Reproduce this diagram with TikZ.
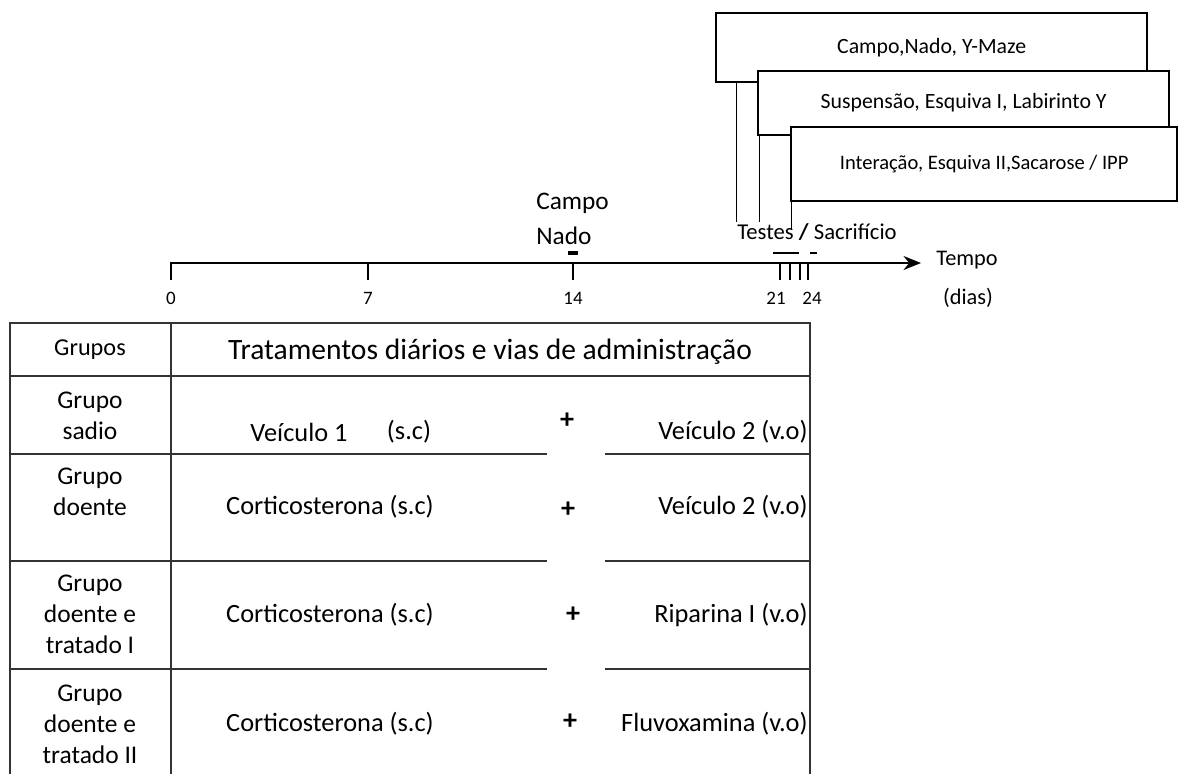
\documentclass[tikz,border=0pt]{standalone}
\usepackage{fontspec}
\setmainfont{Carlito}
\usetikzlibrary{arrows.meta}
\begin{document}
\begin{tikzpicture}[x=0.2mm,y=-0.2mm]
\tikzstyle{every node}+=[inner sep=0pt]
\tikzstyle{teste}=[draw=black,line width=1.3pt,fill=white,anchor=north west,font=\fontsize{12.4}{14}\selectfont]
\tikzstyle{eixo}=[black,line width=1.2pt]
\tikzstyle{grade}=[black!80,line width=1pt]
\tikzstyle{celula}=[font=\fontsize{14.5}{17.6}\selectfont,align=center]
\tikzstyle{dia}=[font=\fontsize{10.8}{12}\selectfont]
\useasboundingbox (0,0) rectangle (1178,774);
% caixas dos testes
\node [teste,minimum width=86.2mm,minimum height=13.8mm] (box1) at (715,12) {Campo,Nado, Y-Maze};
\node [teste,minimum width=82.2mm,minimum height=12.8mm] (box2) at (757,70) {Suspensão, Esquiva I, Labirinto Y};
\node [teste,minimum width=77.2mm,minimum height=14.8mm,font=\fontsize{11.7}{13}\selectfont] (box3) at (790,126) {Interação, Esquiva II,Sacarose / IPP};
\coordinate (p1) at (736,222);
\coordinate (p2) at (759,222);
\coordinate (p3) at (791,230);
\draw [black] (p1 |- box1.south) -- (p1);
\draw [black] (p2 |- box2.south) -- (p2);
\draw [black] (p3 |- box3.south) -- (p3);
\node [font=\fontsize{12.9}{14}\selectfont] (testes) at (817,232) {Testes \textbf{/} Sacrifício};
\node [font=\fontsize{14.4}{16}\selectfont,anchor=west] (campo) at (536,203) {Campo};
\node [font=\fontsize{14.4}{16}\selectfont,anchor=west] (nado) at (536,236) {Nado};
% eixo do tempo
\coordinate (t0) at (171,263);
\coordinate (tf) at (921,263);
\draw [eixo,-{Stealth[length=3.5mm,width=2.8mm]}] (t0) -- (tf);
\foreach \x in {171,368,573,780,790,800,808}
  \draw [eixo] (\x,262) -- (\x,280);
\draw [eixo,line width=1.8pt] (568,253) -- (578,253);
\draw [eixo,line width=1.6pt] (773,253) -- (799,253);
\draw [eixo,line width=1.6pt] (810,253) -- (817,253);
\node [dia] (d0) at (171,298) {0};
\node [dia] (d7) at (368,298) {7};
\node [dia] (d14) at (573,298) {14};
\node [dia] (d21) at (776,298) {21};
\node [dia] (d24) at (812,298) {24};
\node [font=\fontsize{12.7}{14}\selectfont] (tempo) at (967,260) {Tempo};
\node [font=\fontsize{12.7}{14}\selectfont] (dias) at (968,298) {(dias)};
% tabela
\draw [grade] (10,774) -- (10,323) -- (810,323) -- (810,774);
\draw [grade] (171,323) -- (171,774);
\draw [grade] (10,376) -- (810,376);
\foreach \y in {454,561,669} {
  \draw [grade] (10,\y) -- (547,\y);
  \draw [grade] (605,\y) -- (810,\y);
}
\node [celula,font=\fontsize{13.8}{16}\selectfont] (grupos) at (90,350) {Grupos};
\node [font=\fontsize{16.8}{18}\selectfont] (trat) at (490,352) {Tratamentos diários e vias de administração};
\node [celula] (g1) at (90,416) {Grupo\\sadio};
\node [celula] (g2) at (90,492) {Grupo\\doente};
\node [celula] (g3) at (90,614) {Grupo\\doente e\\tratado I};
\node [celula] (g4) at (90,724) {Grupo\\doente e\\tratado II};
\node [celula,font=\fontsize{15}{17}\selectfont] (v1) at (299,432) {Veículo 1};
\node [celula,font=\fontsize{15}{17}\selectfont] (sc1) at (409,432) {(s.c)};
\node [celula,font=\fontsize{15}{17}\selectfont] (c2) at (330,507) {Corticosterona (s.c)};
\node [celula,font=\fontsize{15}{17}\selectfont] (c3) at (330,615) {Corticosterona (s.c)};
\node [celula,font=\fontsize{15}{17}\selectfont] (c4) at (330,724) {Corticosterona (s.c)};
\node [celula,font=\fontsize{16}{17}\selectfont] (mais1) at (567,421) {\textbf{+}};
\node [celula,font=\fontsize{16}{17}\selectfont] (mais2) at (568,510) {\textbf{+}};
\node [celula,font=\fontsize{16}{17}\selectfont] (mais3) at (573,615) {\textbf{+}};
\node [celula,font=\fontsize{16}{17}\selectfont] (mais4) at (570,722) {\textbf{+}};
\node [celula,font=\fontsize{15}{17}\selectfont,anchor=east] (vo1) at (808,432) {Veículo 2 (v.o)};
\node [celula,font=\fontsize{15}{17}\selectfont,anchor=east] (vo2) at (808,507) {Veículo 2 (v.o)};
\node [celula,font=\fontsize{15}{17}\selectfont,anchor=east] (vo3) at (808,615) {Riparina I (v.o)};
\node [celula,font=\fontsize{15}{17}\selectfont,anchor=east] (vo4) at (808,724) {Fluvoxamina (v.o)};
\end{tikzpicture}
\end{document}
